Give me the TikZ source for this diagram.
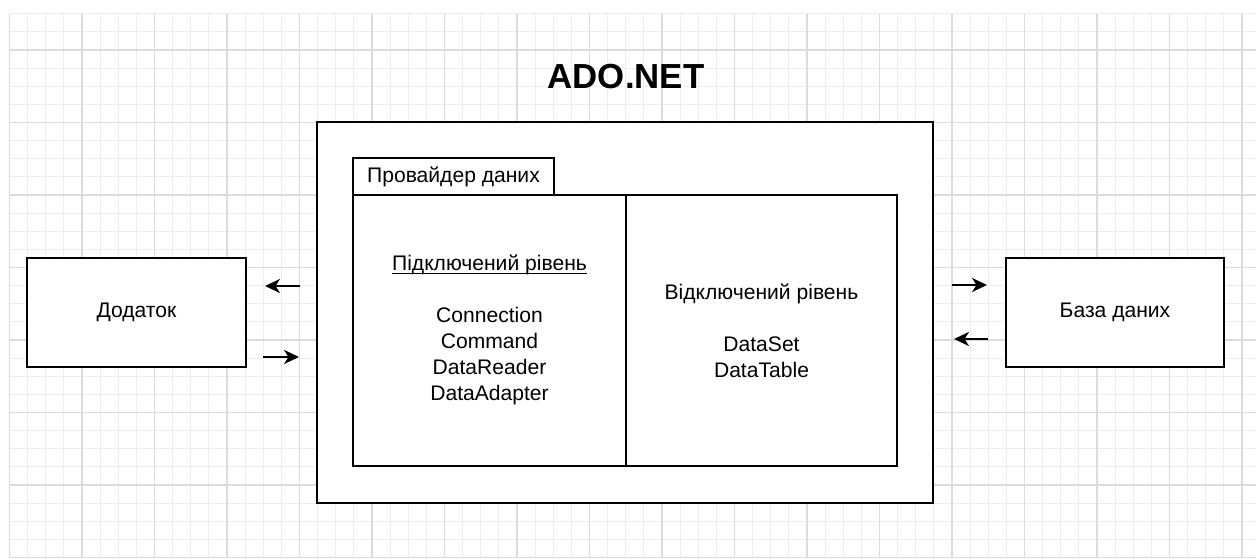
\documentclass[tikz,border=0pt]{standalone}
\usepackage{fontspec}
\setmainfont{Liberation Sans}
\usepackage{tikz}
\usetikzlibrary{arrows.meta,positioning}

\begin{document}
\begin{tikzpicture}[
    box/.style={draw, line width=1.1pt, fill=white, inner sep=0pt},
    txt/.style={font=\fontsize{12}{14.8}\selectfont, align=center},
    flow/.style={line width=1.2pt, -{Stealth[length=8.5pt,width=8pt,inset=2.5pt]}}
  ]
    \useasboundingbox (0,0) rectangle (25.12,11.16);
    % background grid
    \begin{scope}[shift={(0.19,10.16)}]
      \draw[black!7, line width=0.5pt, step=0.3625] (0,-10.16) grid (24.93,0.725);
      \draw[black!14, line width=0.6pt, step=1.45] (0,-10.16) grid (24.93,0.725);
    \end{scope}

    \node[font=\fontsize{19.8}{22}\selectfont\bfseries] (title) at (12.52,9.62) {ADO.NET};
    \node[box, minimum width=12.32cm, minimum height=7.62cm] (ado) at (12.50,4.91) {};
    \node[box, txt, minimum width=4.02cm, minimum height=0.74cm] (tab) at (9.07,7.63) {Провайдер даних};
    \node[box, txt, minimum width=5.46cm, minimum height=5.42cm] (conn) at (9.79,4.55)
      {\underline{\smash{Підключений рівень}}\vphantom{Пр}\\[14.8pt]Connection\\Command\\DataReader\\DataAdapter};
    \node[box, txt, minimum width=5.42cm, minimum height=5.42cm] (disc) at (15.23,4.55)
      {Відключений рівень\\[14.8pt]DataSet\\DataTable};

    \node[box, txt, minimum width=4.38cm, minimum height=2.18cm] (app) at (2.73,4.91) {Додаток};
    \node[box, txt, minimum width=4.36cm, minimum height=2.18cm] (db) at (22.30,4.91) {База даних};

    % arrows
    \coordinate (appin1) at (6.00,5.44); \coordinate (appin2) at (5.30,5.44);
    \coordinate (appout1) at (5.26,4.02); \coordinate (appout2) at (5.98,4.02);
    \coordinate (dbout1) at (19.04,5.46); \coordinate (dbout2) at (19.74,5.46);
    \coordinate (dbin1) at (19.76,4.38); \coordinate (dbin2) at (19.08,4.38);
    \draw[flow] (appin1) -- (appin2);
    \draw[flow] (appout1) -- (appout2);
    \draw[flow] (dbout1) -- (dbout2);
    \draw[flow] (dbin1) -- (dbin2);
  \end{tikzpicture}
\end{document}
